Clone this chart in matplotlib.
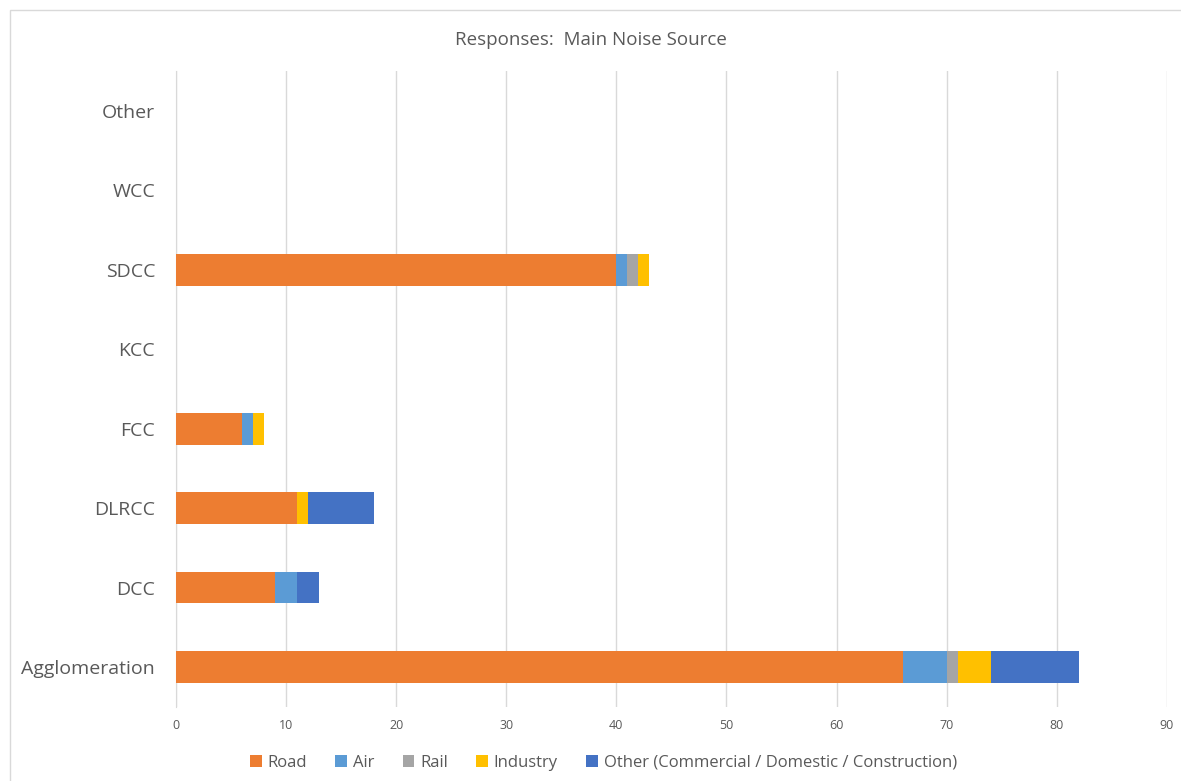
import matplotlib.pyplot as plt
from matplotlib.patches import Rectangle
import numpy as np

plt.rcParams['font.family'] = ['Open Sans', 'DejaVu Sans']

categories = ['Agglomeration', 'DCC', 'DLRCC', 'FCC', 'KCC', 'SDCC', 'WCC', 'Other']
road = [66, 9, 11, 6, 0, 40, 0, 0]
air = [4, 2, 0, 1, 0, 1, 0, 0]
rail = [1, 0, 0, 0, 0, 1, 0, 0]
industry = [3, 0, 1, 1, 0, 1, 0, 0]
other = [8, 2, 6, 0, 0, 0, 0, 0]

series = [('Road', road, '#ED7D31'),
          ('Air', air, '#5B9BD5'),
          ('Rail', rail, '#A5A5A5'),
          ('Industry', industry, '#FFC000'),
          ('Other (Commercial / Domestic / Construction)', other, '#4472C4')]

fig = plt.figure(figsize=(11.81, 7.81), dpi=100)
ax = fig.add_axes([0.149, 0.095, 0.839, 0.814])

y = np.arange(len(categories))
left = np.zeros(len(categories))
for name, vals, col in series:
    ax.barh(y, vals, left=left, height=0.4, color=col, label=name, zorder=3)
    left += np.array(vals)

ax.set_xlim(0, 90)
ax.set_ylim(-0.5, len(categories) - 0.5)
ax.set_xticks(range(0, 91, 10))
ax.set_yticks(y)
ax.set_yticklabels(categories)
ax.tick_params(axis='y', length=0, labelsize=14, labelcolor='#595959', pad=15)
ax.tick_params(axis='x', length=0, labelsize=9, labelcolor='#595959', pad=9)
ax.grid(axis='x', color='#D9D9D9', linewidth=1, zorder=0)
for s in ['top', 'right', 'bottom']:
    ax.spines[s].set_visible(False)
ax.spines['left'].set_color('#D9D9D9')

fig.text(0.5, 0.949, 'Responses:  Main Noise Source', ha='center', va='center',
         fontsize=13.5, color='#595959')

fig.legend(loc='lower center', bbox_to_anchor=(0.511, -0.006), ncol=5, frameon=False,
           fontsize=12, labelcolor='#595959', handlelength=0.7, handleheight=0.7,
           handletextpad=0.35, columnspacing=1.7)

fig.patches.append(Rectangle((10 / 1181, -0.1), 1.2, (781 - 10) / 781 + 0.1,
                             transform=fig.transFigure, fill=False,
                             edgecolor='#D9D9D9', linewidth=1))

fig.savefig('out.png', dpi=100)
